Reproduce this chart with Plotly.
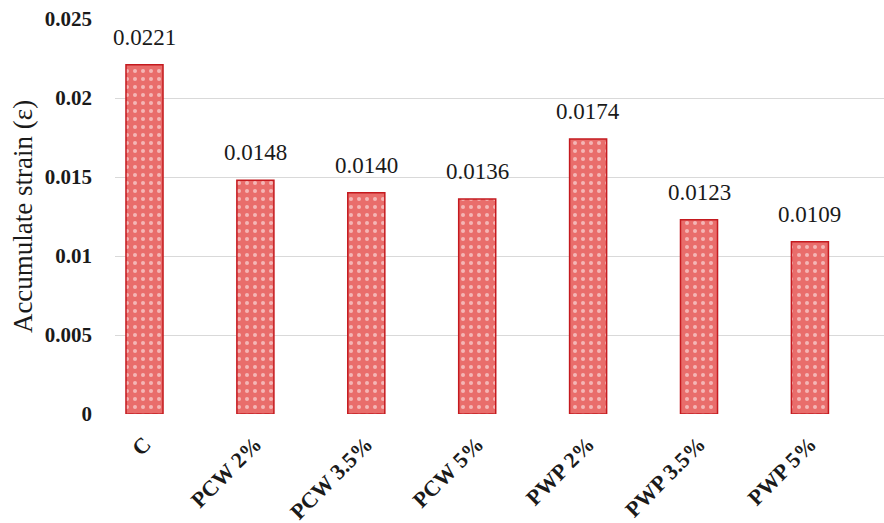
import plotly.graph_objects as go

# Accumulated strain for each mix
categories = ["C", "PCW 2%", "PCW 3.5%", "PCW 5%", "PWP 2%", "PWP 3.5%", "PWP 5%"]
strain = [0.0221, 0.0148, 0.0140, 0.0136, 0.0174, 0.0123, 0.0109]
value_labels = ["0.0221", "0.0148", "0.0140", "0.0136", "0.0174", "0.0123", "0.0109"]
y_ticks = [0, 0.005, 0.01, 0.015, 0.02, 0.025]
y_tick_text = ["0", "0.005", "0.01", "0.015", "0.02", "0.025"]

serif = "Liberation Serif, Times New Roman, serif"

fig = go.Figure()
fig.add_trace(go.Bar(
    x=categories,
    y=strain,
    width=0.334,
    marker=dict(
        color="#ea7472",
        line=dict(color="#c41a1f", width=1.5),
        pattern=dict(shape=".", fgcolor="#ffffff", bgcolor="#e96d6b",
                     size=8, solidity=0.2, fillmode="overlay"),
    ),
    hoverinfo="skip",
))

for cat, val, lab in zip(categories, strain, value_labels):
    fig.add_annotation(
        x=cat, y=val, text=lab, showarrow=False,
        yanchor="bottom", yshift=13,
        font=dict(family=serif, size=23, color="#1a1a1a"),
    )

fig.update_layout(
    width=884, height=523,
    margin=dict(l=115, r=0, t=19, b=109),
    paper_bgcolor="white", plot_bgcolor="white",
    showlegend=False,
    font=dict(family=serif, color="#1a1a1a"),
)
fig.update_xaxes(
    type="category",
    range=[-0.266, 6.668],
    tickangle=-45,
    tickfont=dict(family=serif, size=22, color="#1a1a1a", weight="bold"),
    ticklabelstandoff=12,
    automargin=False,
    showline=False, showgrid=False, ticks="",
)
fig.update_yaxes(
    range=[0, 0.025],
    tickvals=y_ticks, ticktext=y_tick_text,
    tickfont=dict(family=serif, size=21, color="#1a1a1a", weight="bold"),
    ticklabelstandoff=22,
    automargin=False,
    showgrid=True, gridcolor="#d9d9d9", gridwidth=1,
    zeroline=False, showline=False,
    title=dict(text="Accumulate strain (ε)",
               font=dict(family=serif, size=27, color="#1a1a1a"),
               standoff=4),
)

fig.write_html("out.html")
